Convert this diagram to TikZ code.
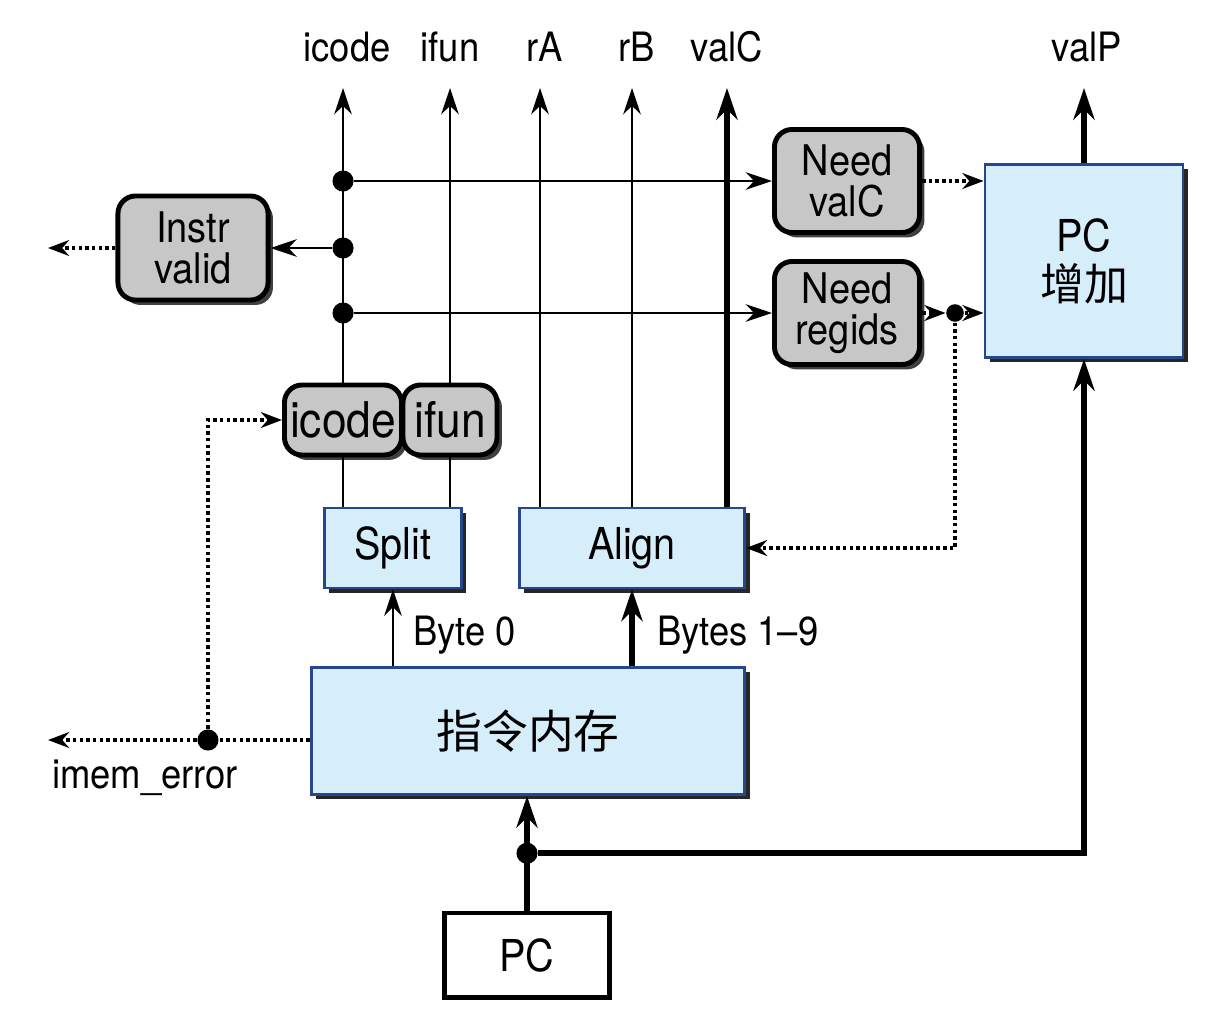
\documentclass[tikz,border=0pt]{standalone}
\usepackage{fontspec}
\setmainfont{TeX Gyre Heros}[FakeStretch=0.9]
\newfontfamily\cjk{Noto Sans CJK SC}
\usepackage{tikz}
\usetikzlibrary{calc,arrows.meta,shadows}

\definecolor{boxblue}{RGB}{214,238,250}
\definecolor{edgeblue}{RGB}{40,70,140}

\tikzset{
  ctrlbox/.style={draw=black, line width=1.4pt, fill=black!22, rounded corners=5pt,
    align=center, inner sep=0pt, font=\fontsize{12}{11.5}\selectfont,
    drop shadow={shadow xshift=1.4pt, shadow yshift=-1.4pt, fill=black!75, opacity=1}},
  hwbox/.style={draw=edgeblue, line width=0.8pt, fill=boxblue, align=center, inner sep=0pt,
    font=\fontsize{12.5}{13}\selectfont,
    drop shadow={shadow xshift=1.4pt, shadow yshift=-1.4pt, fill=black!85, opacity=1}},
  wire/.style={line width=0.75pt, -{Stealth[length=7.5pt,width=5pt]}},
  bus/.style={line width=1.6pt, -{Stealth[length=9pt,width=6pt]}},
  ctl/.style={line width=1.1pt, dash pattern=on 1pt off 0.9pt, -{Stealth[length=6pt,width=4.5pt]}},
  jdot/.style={circle, fill=black, inner sep=0pt, minimum size=6pt},
  lbl/.style={font=\fontsize{11.5}{13}\selectfont}
}

\begin{document}
\begin{tikzpicture}[x=0.01cm,y=-0.01cm]
\useasboundingbox (0,0) rectangle (1225,1027);

%Blocks
\node[hwbox, minimum width=4.33cm, minimum height=1.27cm] (imem) at (528,731) {\cjk\fontsize{13}{13}\selectfont 指令内存};
\node[hwbox, minimum width=1.37cm, minimum height=0.80cm] (split) at (393,548) {Split};
\node[hwbox, minimum width=2.25cm, minimum height=0.80cm] (align) at (632,548) {Align};
\node[hwbox, minimum width=1.98cm, minimum height=1.93cm, font=\fontsize{12.5}{14}\selectfont] (pcinc) at (1084,261) {PC\\{\cjk 增加}};
\node[draw=black, line width=1.4pt, fill=white, minimum width=1.65cm, minimum height=0.84cm,
  font=\fontsize{12.5}{13}\selectfont] (pc) at (527,955) {PC};

%Control boxes
\node[ctrlbox, minimum width=1.50cm, minimum height=1.04cm] (instr) at (193,248) {Instr\\valid};
\node[ctrlbox, minimum width=1.45cm, minimum height=1.03cm] (needc) at (847,181) {Need\\valC};
\node[ctrlbox, minimum width=1.45cm, minimum height=1.03cm] (needr) at (847,313) {Need\\regids};
\node[ctrlbox, minimum width=1.17cm, minimum height=0.70cm, font=\fontsize{14}{14}\selectfont] (icodebox) at (343,420) {icode};
\node[ctrlbox, minimum width=0.94cm, minimum height=0.70cm, font=\fontsize{14}{14}\selectfont] (ifunbox) at (450,420) {ifun};

%Outputs
\coordinate (top) at (0,88);
\node[lbl] (oicode) at (347,47) {icode};
\node[lbl] (oifun) at (450,47) {ifun};
\node[lbl] (ora) at (545,47) {rA};
\node[lbl] (orb) at (637,47) {rB};
\node[lbl] (ovalc) at (727,47) {valC};
\node[lbl] (ovalp) at (1087,47) {valP};

\coordinate (ra) at ($(align.north)+(-92,0)$);
\coordinate (valc) at ($(align.north)+(95,0)$);
\draw[wire] (icodebox.north) -- (icodebox.north |- top);
\draw[wire] (ifunbox.north) -- (ifunbox.north |- top);
\draw[wire] (ra) -- (ra |- top);
\draw[wire] (align.north) -- (align.north |- top);
\draw[bus] (valc) -- (valc |- top);
\draw[bus] (pcinc.north) -- (pcinc.north |- top);

%Junctions on icode
\node[jdot] (j1) at (icodebox.north |- needc.west) {};
\node[jdot] (j2) at (icodebox.north |- instr.east) {};
\node[jdot] (j3) at (icodebox.north |- needr.west) {};
\draw[wire] (j1) -- (needc.west);
\draw[wire] (j2) -- (instr.east);
\draw[wire] (j3) -- (needr.west);

%Control signals
\coordinate (validout) at (48,248);
\draw[ctl] (instr.west) -- (validout);
\draw[ctl] (needc.east) -- (needc.east -| pcinc.west);
\node[jdot, minimum size=5pt] (jr) at ($(needr.east)+(33,0)$) {};
\draw[ctl] (needr.east) -- (jr);
\draw[ctl] (jr) -- (jr -| pcinc.west);
\draw[ctl] (jr) |- (align.east);

%Split
\draw[line width=0.75pt] (icodebox.south) -- (icodebox.south |- split.north);
\draw[line width=0.75pt] (ifunbox.south) -- (ifunbox.south |- split.north);

%Memory outputs
\draw[wire] (split.south |- imem.north) -- (split.south)
  node[lbl, pos=0.4, right=2pt] (byte0) {Byte 0};
\draw[bus] (align.south |- imem.north) -- (align.south)
  node[lbl, pos=0.4, right=3pt] (bytes) {Bytes 1--9};

%imem_error
\node[jdot] (jerr) at ($(imem.west)+(-102,9)$) {};
\coordinate (errout) at (48,740);
\draw[ctl, -] ($(imem.west)+(0,9)$) -- (jerr);
\draw[ctl] (jerr) -- (errout);
\draw[ctl] (jerr) |- (icodebox.west);
\node[lbl] (errlbl) at (145,778) {imem\_error};

%PC
\draw[bus] (pc.north) -- (pc.north |- imem.south);
\node[jdot] (jpc) at ($(pc.north)!0.5!(pc.north |- imem.south)$) {};
\draw[bus] (jpc) -| (pcinc.south);

\end{tikzpicture}
\end{document}
